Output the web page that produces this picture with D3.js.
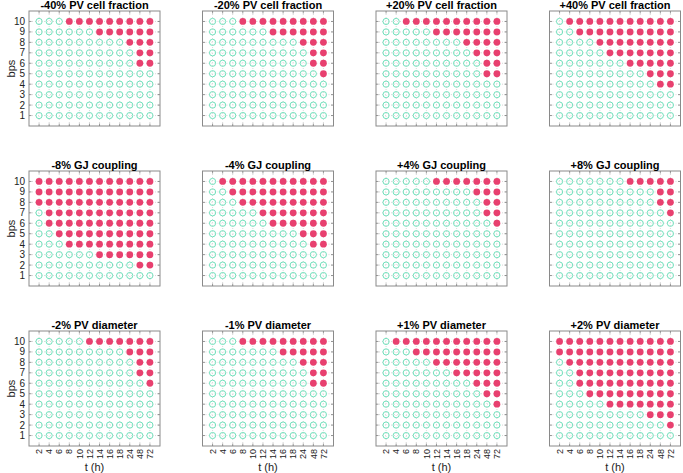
<!DOCTYPE html>
<html>
<head>
<meta charset="utf-8">
<script src="https://cdn.jsdelivr.net/npm/d3@7"></script>
<style>
  body { margin: 0; background: #fff; }
  svg { font-family: "Liberation Sans", Arial, sans-serif; }
  .title { font-size: 11px; font-weight: bold; }
  .tick-label { font-size: 10px; fill: #222; }
  .xtick-label { font-size: 9px; fill: #222; }
  .axis-label { font-size: 11px; fill: #222; }
</style>
</head>
<body>
<svg width="683" height="473"></svg>
<script>
var svg = d3.select("svg");

// x categories (hours) and y levels
var times = ["2", "4", "6", "8", "10", "12", "14", "16", "18", "24", "48", "72"];
var bpsLevels = [1, 2, 3, 4, 5, 6, 7, 8, 9, 10];

var titles = [
  "-40% PV cell fraction", "-20% PV cell fraction", "+20% PV cell fraction", "+40% PV cell fraction",
  "-8% GJ coupling", "-4% GJ coupling", "+4% GJ coupling", "+8% GJ coupling",
  "-2% PV diameter", "-1% PV diameter", "+1% PV diameter", "+2% PV diameter"
];

// first time (h) at which each bps level 1..10 is filled; null = never
var pvFracM40 = [null, null, null, null, null, "48", "48", "24", "14", "8"];
var pvFracM20 = [null, null, null, null, "72", "48", "48", "24", "14", "8"];
var pvFracP20 = [null, null, null, null, "48", "48", "24", "18", "12", "6"];
var pvFracP40 = [null, null, null, "48", "24", "16", "12", "10", "6", "4"];
var gjM8 = [null, "48", "14", "8", "6", "4", "4", "2", "2", "2"];
var gjM4 = [null, null, null, "48", "24", "14", "12", "8", "6", "4"];
var gjP4 = [null, null, null, null, null, "72", "48", "48", "24", "12"];
var gjP8 = [null, null, null, null, null, null, "72", "48", "48", "16"];
var diamM2 = [null, null, null, null, null, "72", "48", "48", "24", "12"];
var diamM1 = [null, null, null, null, null, "48", "48", "24", "16", "8"];
var diamP1 = [null, null, null, "72", "48", "24", "16", "12", "8", "4"];
var diamP2 = [null, "72", "24", "12", "8", "6", "6", "4", "2", "2"];

var onsets = [pvFracM40, pvFracM20, pvFracP20, pvFracP40,
              gjM8, gjM4, gjP4, gjP8,
              diamM2, diamM1, diamP1, diamP2];

var panelW = 131, panelH = 115;
var colX = [29, 202.5, 376, 549.5];
var rowY = [11, 171, 331];

var x = d3.scaleLinear().domain([0, 13]).range([0, panelW]);
var y = d3.scaleLinear().domain([0, 11]).range([panelH, 0]);

var openColor = "#62dcb4";
var fillColor = "#e8406f";

titles.forEach(function(title, p) {
  var col = p % 4, row = Math.floor(p / 4);
  var g = svg.append("g").attr("transform", "translate(" + colX[col] + "," + rowY[row] + ")");
  var onset = onsets[p];

  // dotted grid
  g.selectAll(".vgrid").data(times).enter().append("line")
      .attr("x1", function(d, i) { return x(i + 1); })
      .attr("x2", function(d, i) { return x(i + 1); })
      .attr("y1", 0).attr("y2", panelH)
      .attr("stroke", "#c8c8c8").attr("stroke-width", 0.7).attr("stroke-dasharray", "1,2");
  g.selectAll(".hgrid").data(bpsLevels).enter().append("line")
      .attr("y1", function(d) { return y(d); })
      .attr("y2", function(d) { return y(d); })
      .attr("x1", 0).attr("x2", panelW)
      .attr("stroke", "#c8c8c8").attr("stroke-width", 0.7).attr("stroke-dasharray", "1,2");

  // tick marks (inside, all four sides)
  times.forEach(function(t, i) {
    g.append("line").attr("x1", x(i + 1)).attr("x2", x(i + 1)).attr("y1", panelH).attr("y2", panelH - 2.5)
      .attr("stroke", "#555").attr("stroke-width", 0.6);
    g.append("line").attr("x1", x(i + 1)).attr("x2", x(i + 1)).attr("y1", 0).attr("y2", 2.5)
      .attr("stroke", "#555").attr("stroke-width", 0.6);
  });
  bpsLevels.forEach(function(b) {
    g.append("line").attr("y1", y(b)).attr("y2", y(b)).attr("x1", 0).attr("x2", 2.5)
      .attr("stroke", "#555").attr("stroke-width", 0.6);
    g.append("line").attr("y1", y(b)).attr("y2", y(b)).attr("x1", panelW).attr("x2", panelW - 2.5)
      .attr("stroke", "#555").attr("stroke-width", 0.6);
  });

  // box
  g.append("rect").attr("width", panelW).attr("height", panelH)
      .attr("fill", "none").attr("stroke", "#8a8a8a").attr("stroke-width", 1);

  // cells
  var cells = [];
  bpsLevels.forEach(function(b, bi) {
    var start = onset[bi] === null ? Infinity : times.indexOf(onset[bi]);
    times.forEach(function(t, ti) {
      cells.push({ b: b, ti: ti, on: ti >= start });
    });
  });
  g.selectAll(".cell").data(cells).enter().append("circle")
      .attr("cx", function(d) { return x(d.ti + 1); })
      .attr("cy", function(d) { return y(d.b); })
      .attr("r", function(d) { return d.on ? 3.4 : 3.1; })
      .attr("fill", function(d) { return d.on ? fillColor : "none"; })
      .attr("stroke", function(d) { return d.on ? "none" : openColor; })
      .attr("stroke-width", 0.9);

  // title
  g.append("text").attr("class", "title")
      .attr("x", panelW / 2).attr("y", -2.5)
      .attr("text-anchor", "middle")
      .text(title);

  if (col === 0) {
    g.selectAll(".ylab").data(bpsLevels).enter().append("text")
        .attr("class", "tick-label")
        .attr("x", -4).attr("y", function(d) { return y(d); })
        .attr("dy", "0.35em").attr("text-anchor", "end")
        .text(function(d) { return d; });
    g.append("text").attr("class", "axis-label")
        .attr("transform", "translate(" + (-14) + "," + (panelH / 2) + ") rotate(-90)")
        .attr("text-anchor", "middle")
        .text("bps");
  }
  if (row === 2) {
    g.selectAll(".xlab").data(times).enter().append("text")
        .attr("class", "xtick-label")
        .attr("transform", function(d, i) { return "translate(" + x(i + 1) + "," + (panelH + 3) + ") rotate(-90)"; })
        .attr("dy", "0.35em").attr("text-anchor", "end")
        .text(function(d) { return d; });
    g.append("text").attr("class", "axis-label")
        .attr("x", panelW / 2).attr("y", panelH + 24.5)
        .attr("text-anchor", "middle")
        .text("t (h)");
  }
});
</script>
</body>
</html>
